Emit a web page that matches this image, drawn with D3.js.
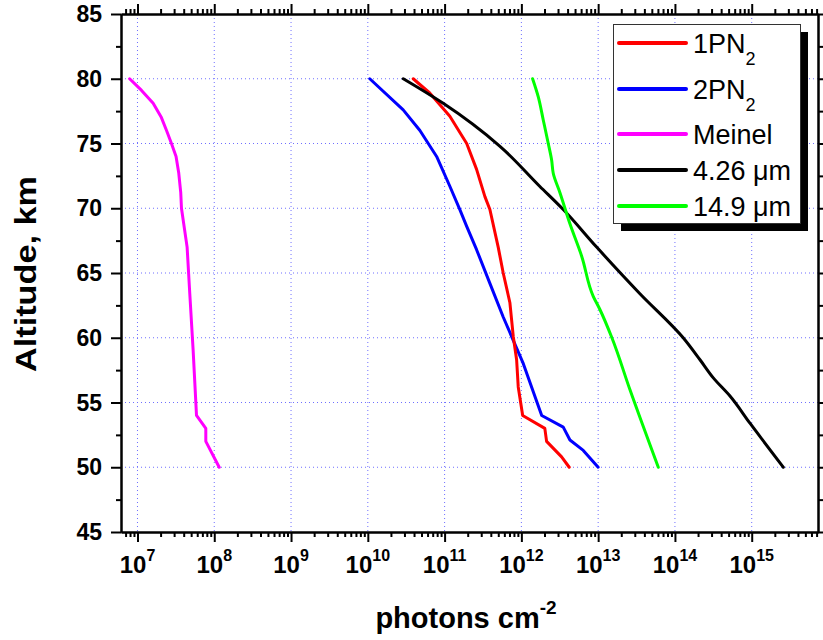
<!DOCTYPE html>
<html><head><meta charset="utf-8">
<script src="https://cdn.jsdelivr.net/npm/d3@7"></script>
<style>body{margin:0;background:#fff}svg{display:block}</style>
</head><body>
<svg id="c" width="823" height="640"></svg>
<script>
// ---- data ----
const seriesLabel = ["1PN", "2PN", "Meinel", "4.26 \u03BCm", "14.9 \u03BCm"];
const seriesSub   = ["2", "2", "", "", ""];
const seriesColor = ["#ff0000", "#0000ff", "#ff00ff", "#000000", "#00ff00"];

const alt1PN = [80, 78.9, 77.1, 75.0, 73.0, 70.9, 69.9, 67.0, 65.0, 62.7, 60.1, 58.3, 56.2, 54.0, 53.0, 52.0, 50.8, 50];
const val1PN = [3.9e10, 6.4e10, 1.17e11, 1.94e11, 2.61e11, 3.35e11, 3.89e11, 4.99e11, 5.8e11, 7.09e11, 7.84e11, 8.67e11, 9.1e11, 1.04e12, 2.02e12, 2.13e12, 3.34e12, 4.2e12];

const alt2PN = [80, 77.6, 76.0, 74.0, 71.7, 69.9, 68.6, 66.8, 64.2, 61.6, 59.8, 58.0, 54.0, 53.1, 52.1, 51.3, 50];
const val2PN = [1.06e10, 2.89e10, 4.77e10, 7.87e10, 1.17e11, 1.58e11, 1.94e11, 2.61e11, 3.89e11, 5.8e11, 7.84e11, 1.06e12, 1.84e12, 3.51e12, 4.29e12, 6.4e12, 1.0e13];

const altMeinel = [80, 79.1, 78.1, 77.0, 76.0, 75.0, 74.0, 72.7, 71.9, 71.2, 70.0, 67.0, 63.4, 59.1, 54.0, 53.0, 52.0, 50];
const valMeinel = [7.9e6, 1.13e7, 1.6e7, 2.05e7, 2.39e7, 2.77e7, 3.18e7, 3.45e7, 3.56e7, 3.66e7, 3.74e7, 4.43e7, 4.8e7, 5.3e7, 5.87e7, 7.76e7, 7.76e7, 1.16e8];

const alt426 = [80, 78.1, 74.8, 71.7, 69.9, 67.0, 63.4, 60.0, 58.3, 56.9, 55.5, 53.4, 50];
const val426 = [2.89e10, 9.59e10, 5.22e11, 1.73e12, 3.51e12, 9.55e12, 3.5e13, 1.28e14, 2.12e14, 3.16e14, 5.21e14, 9.49e14, 2.58e15];

const alt149 = [80, 78.6, 76.8, 75.0, 73.7, 72.7, 71.2, 68.8, 66.3, 63.2, 62.2, 60.0, 56.0, 50];
const val149 = [1.4e12, 1.66e12, 1.93e12, 2.24e12, 2.48e12, 2.6e12, 3.18e12, 4.29e12, 6.1e12, 8.63e12, 1.05e13, 1.51e13, 2.59e13, 6.07e13];

const yTicks = [45, 50, 55, 60, 65, 70, 75, 80, 85];
const xTickExps = [7, 8, 9, 10, 11, 12, 13, 14, 15];
const xTitle = "photons cm";
const xTitleSup = "-2";
const yTitle = "Altitude, km";

const seriesAlt = [alt1PN, alt2PN, altMeinel, alt426, alt149];
const seriesVal = [val1PN, val2PN, valMeinel, val426, val149];
const seriesSmooth = [false, false, false, true, true];

// ---- layout ----
const svg = d3.select("#c");
const L = 121, R = 818, T = 14, B = 532;
const x = d3.scaleLog().domain([6.1e6, 7.3e15]).range([L, R]);
const y = d3.scaleLinear().domain([45, 85]).range([B, T]);
const FONT = "'Liberation Sans', Arial, sans-serif";

// grid
const grid = svg.append("g").attr("stroke", "#6f6fff").attr("stroke-width", 1)
  .attr("stroke-dasharray", "1,3");
xTickExps.forEach(e => {
  grid.append("line").attr("x1", x(Math.pow(10, e))).attr("x2", x(Math.pow(10, e)))
    .attr("y1", T).attr("y2", B);
});
yTicks.filter(v => v > 45 && v < 85).forEach(v => {
  grid.append("line").attr("x1", L).attr("x2", R).attr("y1", y(v)).attr("y2", y(v));
});

// ticks
const majX = xTickExps.map(e => Math.pow(10, e));
const minX = [];
for (let e = 6; e <= 15; e++) for (let k = 2; k <= 9; k++) {
  const v = k * Math.pow(10, e);
  if (v >= x.domain()[0] && v <= x.domain()[1]) minX.push(v);
}
const minY = d3.range(47.5, 85, 5);

function styleAxis(g) {
  g.selectAll("path").attr("stroke", "#000").attr("stroke-width", 2);
  g.selectAll("line").attr("stroke", "#000").attr("stroke-width", 2);
  g.selectAll("text").remove();
}
function addAxis(gen, tx, ty, vals, size) {
  svg.append("g").attr("transform", `translate(${tx},${ty})`)
    .call(gen.tickValues(vals).tickSize(size).tickSizeOuter(0).tickFormat("")).call(styleAxis);
}
addAxis(d3.axisBottom(x), 0, B, majX, 10);
addAxis(d3.axisBottom(x), 0, B, minX, 5);
addAxis(d3.axisTop(x), 0, T, majX, 10);
addAxis(d3.axisTop(x), 0, T, minX, 5);
addAxis(d3.axisLeft(y), L, 0, yTicks, 10);
addAxis(d3.axisLeft(y), L, 0, minY, 5);
addAxis(d3.axisRight(y), R, 0, yTicks, 10);
addAxis(d3.axisRight(y), R, 0, minY, 5);

// y tick labels
svg.append("g").selectAll("text").data(yTicks).join("text")
  .attr("x", 102).attr("y", d => y(d) + 8)
  .attr("text-anchor", "end").attr("font-family", FONT).attr("font-weight", "bold")
  .attr("font-size", 23).text(d => d);

// x tick labels
const xl = svg.append("g").selectAll("text").data(xTickExps).join("text")
  .attr("x", d => x(Math.pow(10, d))).attr("y", 573)
  .attr("text-anchor", "middle").attr("font-family", FONT).attr("font-weight", "bold")
  .attr("font-size", 24);
xl.append("tspan").text("10");
xl.append("tspan").attr("dy", -12).attr("font-size", 16).text(d => d);

// titles
const xt = svg.append("text").attr("x", 466).attr("y", 628).attr("text-anchor", "middle")
  .attr("font-family", FONT).attr("font-weight", "bold").attr("font-size", 29);
xt.append("tspan").text(xTitle);
xt.append("tspan").attr("dy", -14).attr("font-size", 19).text(xTitleSup);

svg.append("text").attr("transform", "translate(36,274) rotate(-90)").attr("text-anchor", "middle")
  .attr("font-family", FONT).attr("font-weight", "bold").attr("font-size", 29)
  .attr("textLength", 196).attr("lengthAdjust", "spacingAndGlyphs").text(yTitle);

// curves
const curves = svg.append("g");
[2, 1, 0, 3, 4].forEach(i => {
  const pts = seriesAlt[i].map((a, j) => [a, seriesVal[i][j]]);
  const line = d3.line().x(d => x(d[1])).y(d => y(d[0]))
    .curve(seriesSmooth[i] ? d3.curveMonotoneY : d3.curveLinear);
  curves.append("path").datum(pts).attr("d", line).attr("fill", "none")
    .attr("stroke", seriesColor[i]).attr("stroke-width", 3)
    .attr("stroke-linejoin", "round").attr("stroke-linecap", "round");
});

// legend
const lg = svg.append("g");
lg.append("rect").attr("x", 621).attr("y", 32).attr("width", 187).attr("height", 199).attr("fill", "#000");
lg.append("rect").attr("x", 613.5).attr("y", 24.5).attr("width", 187).attr("height", 199)
  .attr("fill", "#fff").attr("stroke", "#333").attr("stroke-width", 1);
const legendRowY = [43, 89, 134, 170, 206];
seriesLabel.forEach((lab, i) => {
  const ry = legendRowY[i];
  lg.append("line").attr("x1", 619).attr("x2", 686).attr("y1", ry).attr("y2", ry)
    .attr("stroke", seriesColor[i]).attr("stroke-width", 4).attr("stroke-linecap", "round");
  const t = lg.append("text").attr("x", 693).attr("y", ry + 10)
    .attr("font-family", FONT).attr("font-size", 27).attr("fill", "#000");
  t.append("tspan").text(lab);
  if (seriesSub[i]) t.append("tspan").attr("dy", 12).attr("font-size", 18).text(seriesSub[i]);
});
</script>
</body></html>
